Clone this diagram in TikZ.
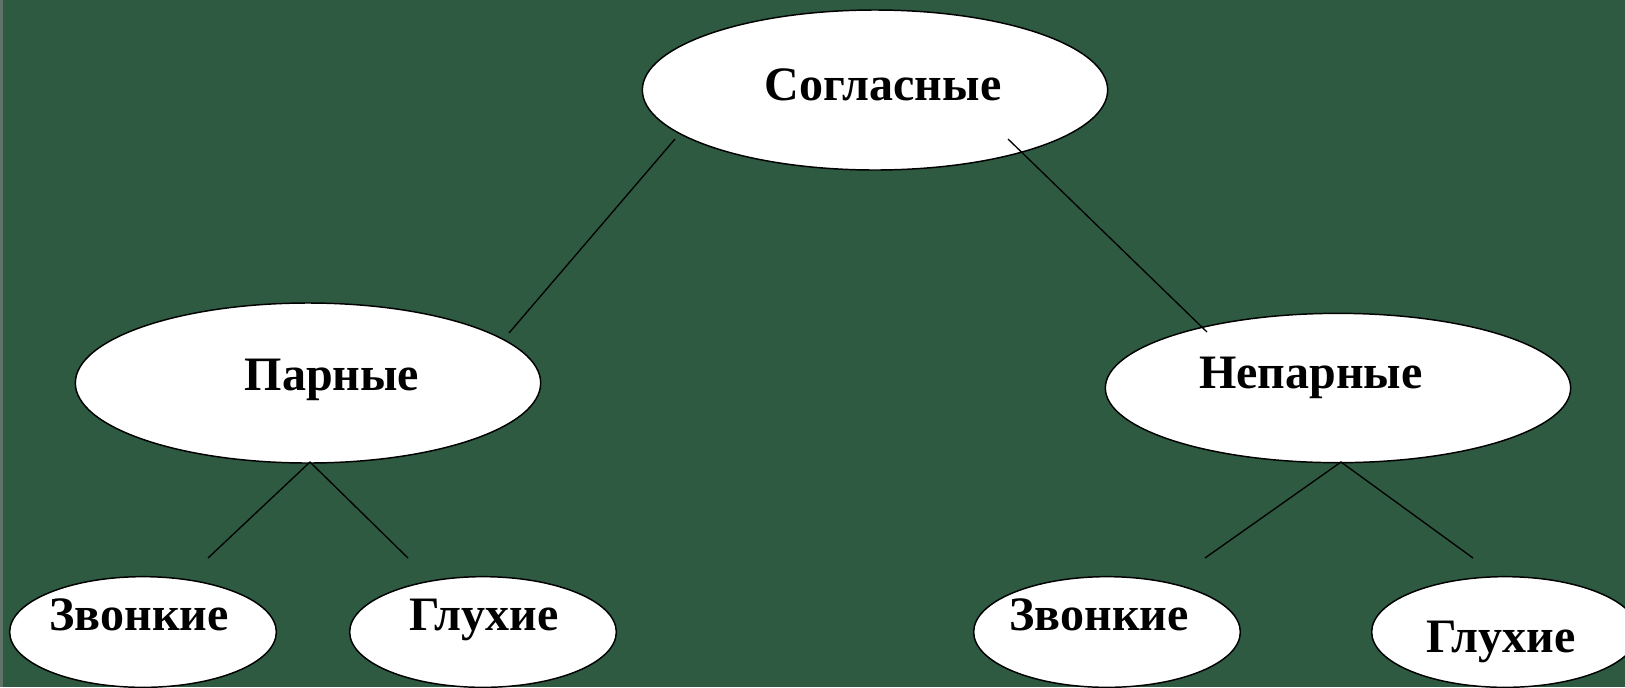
\documentclass[tikz,border=0pt]{standalone}
\usepackage{fontspec}
\setmainfont{Liberation Serif}
\usetikzlibrary{shapes.geometric}
\definecolor{board}{RGB}{46,90,66}
\definecolor{boardedge}{RGB}{96,116,106}

\begin{document}
\begin{tikzpicture}[x=0.75pt,y=0.75pt,yscale=-1,
  oval/.style={ellipse,draw=black,line width=1.1pt,fill=white,inner sep=0pt},
  bigoval/.style={oval,minimum width=349pt,minimum height=120pt},
  smalloval/.style={oval,minimum width=200pt,minimum height=83pt},
  word/.style={anchor=base,inner sep=0pt,font=\bfseries\fontsize{36}{40}\selectfont},
  twig/.style={line width=1pt,black}]
%set diagram to 1625 x 687
\useasboundingbox (0,0) rectangle (1625,687);
\clip (0,0) rectangle (1625,687);

%Shape: Background
\fill [board] (0,0) rectangle (1625,687);
\fill [boardedge] (0,0) rectangle (2.5,687);

%Shape: Ellipse [top]
\node [bigoval,minimum height=120pt] (soglasnye) at (875,90) {};
%Shape: Ellipse [left]
\node [bigoval,minimum height=120pt] (parnye) at (308,383) {};
%Shape: Ellipse [right]
\node [bigoval,minimum height=112pt] (neparnye) at (1338,388) {};
%Shape: Ellipse [bottom row]
\node [smalloval] (zvonkieL) at (143,632) {};
\node [smalloval] (gluhieL) at (483,632) {};
\node [smalloval] (zvonkieR) at (1107,632) {};
\node [smalloval] (gluhieR) at (1505,632) {};

%Straight Lines
\coordinate (a1) at (675,139);
\coordinate (a2) at (509,333);
\coordinate (b1) at (1008,139);
\coordinate (b2) at (1207,332);
\coordinate (c0) at (310,462);
\coordinate (c1) at (208,558);
\coordinate (c2) at (408,558);
\coordinate (d0) at (1341,462);
\coordinate (d1) at (1205,558);
\coordinate (d2) at (1473,558);
\draw [twig] (a1) -- (a2) ;
\draw [twig] (b1) -- (b2) ;
\draw [twig] (c1) -- (c0) -- (c2) ;
\draw [twig] (d1) -- (d0) -- (d2) ;

% Text Node
\node [word] (tSogl) at (883,100) {Согласные};
% Text Node
\node [word] (tPar) at (332,390) {Парные};
% Text Node
\node [word] (tNepar) at (1311,388) {Непарные};
% Text Node
\node [word] (tZvL) at (139,630) {Звонкие};
% Text Node
\node [word] (tGlL) at (484,630) {Глухие};
% Text Node
\node [word] (tZvR) at (1099,630) {Звонкие};
% Text Node
\node [word] (tGlR) at (1501,652) {Глухие};

\end{tikzpicture}
\end{document}
